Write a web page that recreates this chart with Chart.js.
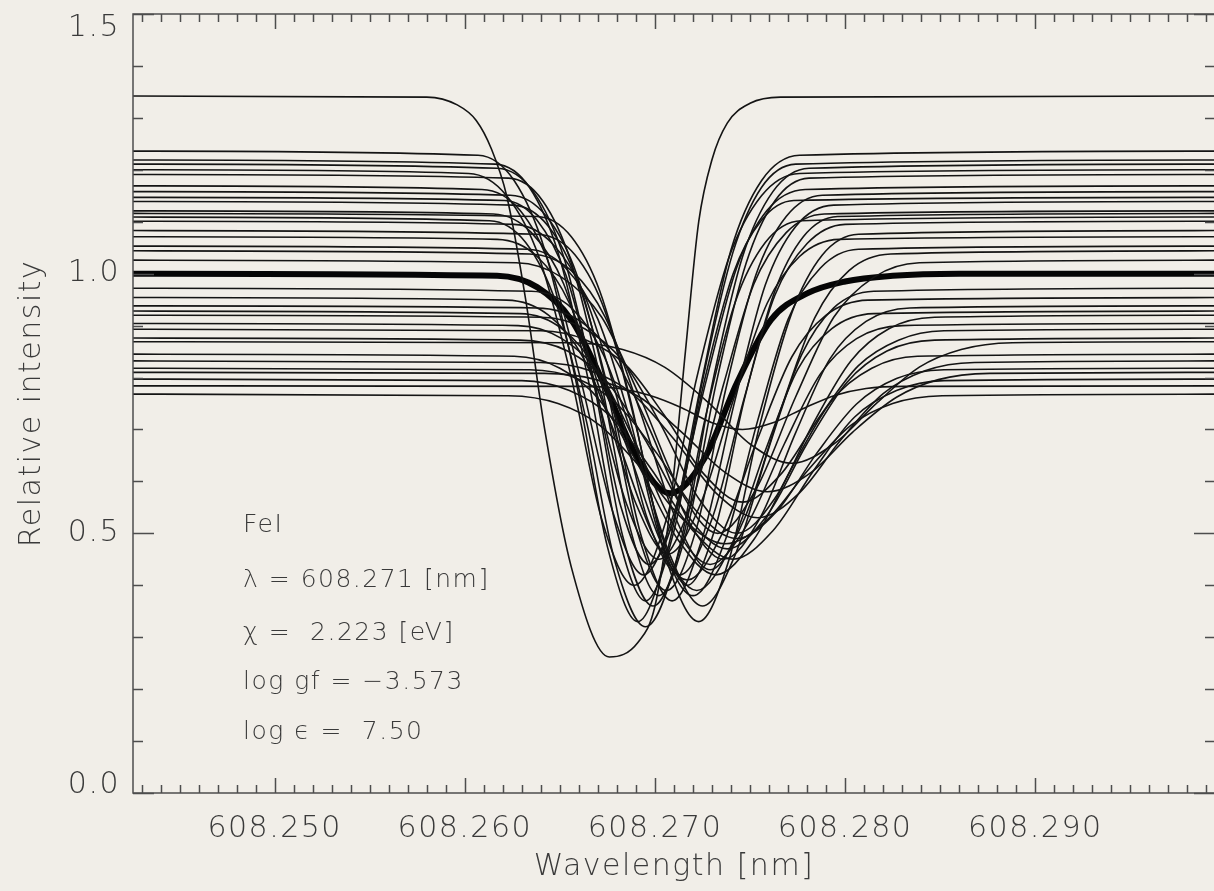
<!DOCTYPE html>
<html>
<head>
<meta charset="utf-8">
<script src="https://cdn.jsdelivr.net/npm/chart.js@4.4.1/dist/chart.umd.min.js"></script>
<style>
  html, body { margin: 0; padding: 0; background: #f1eee8; overflow: hidden; }
  #wrap { position: relative; width: 1216px; height: 891px; }
</style>
</head>
<body>
<div id="wrap"><canvas id="chart"></canvas></div>
<script>
// axis ranges and tick labels
const xMin = 608.24255, xMax = 608.29945;
const xTickValues = [608.25, 608.26, 608.27, 608.28, 608.29];
const yTickValues = [0.0, 0.5, 1.0, 1.5];

// individual profiles, [wavelength nm, relative intensity], continuum above 1
const brightProfiles = [
  [[608.2425,1.342],[608.2580,1.340],[608.2596,1.325],[608.2606,1.295],[608.2614,1.24],[608.2622,1.15],[608.2632,0.95],[608.2642,0.70],[608.2656,0.435],[608.2676,0.262],[608.2691,0.29],[608.2700,0.36],[608.2708,0.55],[608.2716,0.85],[608.2723,1.10],[608.2730,1.22],[608.2738,1.29],[608.2750,1.328],[608.2766,1.340],[608.2995,1.342]],
  [[608.2425,1.236],[608.2607,1.228],[608.2626,1.179],[608.2642,1.046],[608.2659,0.783],[608.2675,0.474],[608.2691,0.33],[608.2707,0.474],[608.2724,0.783],[608.2740,1.046],[608.2756,1.179],[608.2776,1.228],[608.2995,1.236]],
  [[608.2425,1.219],[608.2616,1.211],[608.2634,1.166],[608.2649,1.041],[608.2665,0.794],[608.2680,0.505],[608.2695,0.37],[608.2710,0.505],[608.2725,0.794],[608.2741,1.041],[608.2756,1.166],[608.2774,1.211],[608.2995,1.219]],
  [[608.2425,1.211],[608.2617,1.203],[608.2636,1.158],[608.2652,1.032],[608.2668,0.786],[608.2683,0.495],[608.2699,0.36],[608.2715,0.495],[608.2730,0.786],[608.2746,1.032],[608.2762,1.158],[608.2781,1.203],[608.2995,1.211]],
  [[608.2425,1.2],[608.2602,1.193],[608.2622,1.15],[608.2639,1.032],[608.2656,0.8],[608.2672,0.527],[608.2689,0.4],[608.2706,0.527],[608.2722,0.8],[608.2739,1.032],[608.2756,1.15],[608.2776,1.193],[608.2995,1.2]],
  [[608.2425,1.191],[608.2623,1.184],[608.2641,1.14],[608.2656,1.021],[608.2672,0.786],[608.2687,0.509],[608.2702,0.38],[608.2717,0.509],[608.2732,0.786],[608.2748,1.021],[608.2763,1.14],[608.2781,1.184],[608.2995,1.191]],
  [[608.2425,1.169],[608.2609,1.162],[608.2629,1.122],[608.2645,1.012],[608.2661,0.795],[608.2678,0.539],[608.2694,0.42],[608.2710,0.539],[608.2727,0.795],[608.2743,1.012],[608.2759,1.122],[608.2779,1.162],[608.2995,1.169]],
  [[608.2425,1.158],[608.2624,1.151],[608.2643,1.11],[608.2659,0.997],[608.2675,0.774],[608.2690,0.512],[608.2706,0.39],[608.2722,0.512],[608.2737,0.774],[608.2753,0.997],[608.2769,1.11],[608.2788,1.151],[608.2995,1.158]],
  [[608.2425,1.147],[608.2621,1.141],[608.2638,1.103],[608.2653,0.999],[608.2668,0.794],[608.2682,0.552],[608.2697,0.44],[608.2712,0.552],[608.2726,0.794],[608.2741,0.999],[608.2756,1.103],[608.2773,1.141],[608.2995,1.147]],
  [[608.2425,1.139],[608.2625,1.132],[608.2644,1.091],[608.2660,0.978],[608.2677,0.755],[608.2693,0.492],[608.2709,0.37],[608.2725,0.492],[608.2742,0.755],[608.2758,0.978],[608.2774,1.091],[608.2794,1.132],[608.2995,1.139]],
  [[608.2425,1.121],[608.2615,1.115],[608.2635,1.079],[608.2652,0.98],[608.2668,0.786],[608.2685,0.557],[608.2702,0.45],[608.2719,0.557],[608.2736,0.786],[608.2752,0.98],[608.2769,1.079],[608.2789,1.115],[608.2995,1.121]],
  [[608.2425,1.116],[608.2638,1.11],[608.2656,1.071],[608.2671,0.966],[608.2687,0.758],[608.2702,0.514],[608.2717,0.4],[608.2732,0.514],[608.2747,0.758],[608.2763,0.966],[608.2778,1.071],[608.2796,1.11],[608.2995,1.116]],
  [[608.2425,1.109],[608.2613,1.102],[608.2632,1.06],[608.2648,0.943],[608.2664,0.715],[608.2679,0.445],[608.2695,0.32],[608.2711,0.445],[608.2726,0.715],[608.2742,0.943],[608.2758,1.06],[608.2777,1.102],[608.2995,1.109]],
  [[608.2425,1.101],[608.2626,1.095],[608.2646,1.058],[608.2663,0.958],[608.2680,0.761],[608.2696,0.528],[608.2713,0.42],[608.2730,0.528],[608.2747,0.761],[608.2763,0.958],[608.2780,1.058],[608.2800,1.095],[608.2995,1.101]],
  [[608.2425,1.083],[608.2638,1.076],[608.2658,1.036],[608.2674,0.925],[608.2690,0.707],[608.2706,0.45],[608.2723,0.33],[608.2739,0.45],[608.2755,0.707],[608.2772,0.925],[608.2788,1.036],[608.2807,1.076],[608.2995,1.083]],
  [[608.2425,1.071],[608.2617,1.066],[608.2638,1.033],[608.2655,0.943],[608.2672,0.766],[608.2690,0.557],[608.2707,0.46],[608.2724,0.557],[608.2742,0.766],[608.2759,0.943],[608.2776,1.033],[608.2797,1.066],[608.2995,1.071]],
  [[608.2425,1.053],[608.2633,1.047],[608.2653,1.011],[608.2670,0.912],[608.2687,0.717],[608.2703,0.487],[608.2720,0.38],[608.2737,0.487],[608.2754,0.717],[608.2770,0.912],[608.2787,1.011],[608.2807,1.047],[608.2995,1.053]],
  [[608.2425,1.044],[608.2634,1.038],[608.2656,1.006],[608.2674,0.915],[608.2692,0.737],[608.2711,0.528],[608.2729,0.43],[608.2747,0.528],[608.2766,0.737],[608.2784,0.915],[608.2802,1.006],[608.2824,1.038],[608.2995,1.044]],
  [[608.2425,1.026],[608.2627,1.021],[608.2651,0.993],[608.2672,0.916],[608.2692,0.763],[608.2713,0.584],[608.2733,0.5],[608.2753,0.584],[608.2774,0.763],[608.2794,0.916],[608.2815,0.993],[608.2839,1.021],[608.2995,1.026]]
];

// individual profiles with continuum below 1
const darkProfiles = [
  [[608.2425,0.972],[608.2635,0.966],[608.2656,0.934],[608.2673,0.843],[608.2690,0.666],[608.2708,0.457],[608.2725,0.36],[608.2742,0.457],[608.2760,0.666],[608.2777,0.843],[608.2794,0.934],[608.2815,0.966],[608.2995,0.972]],
  [[608.2425,0.954],[608.2622,0.949],[608.2644,0.92],[608.2662,0.84],[608.2680,0.682],[608.2699,0.497],[608.2717,0.41],[608.2735,0.497],[608.2754,0.682],[608.2772,0.84],[608.2790,0.92],[608.2812,0.949],[608.2995,0.954]],
  [[608.2425,0.938],[608.2638,0.934],[608.2661,0.908],[608.2679,0.836],[608.2698,0.694],[608.2717,0.528],[608.2736,0.45],[608.2755,0.528],[608.2774,0.694],[608.2792,0.836],[608.2811,0.908],[608.2834,0.934],[608.2995,0.938]],
  [[608.2425,0.928],[608.2629,0.923],[608.2651,0.894],[608.2669,0.815],[608.2686,0.659],[608.2704,0.476],[608.2722,0.39],[608.2740,0.476],[608.2758,0.659],[608.2775,0.815],[608.2793,0.894],[608.2815,0.923],[608.2995,0.928]],
  [[608.2425,0.92],[608.2640,0.916],[608.2663,0.894],[608.2683,0.832],[608.2703,0.71],[608.2723,0.567],[608.2743,0.5],[608.2763,0.567],[608.2783,0.71],[608.2803,0.832],[608.2823,0.894],[608.2847,0.916],[608.2995,0.92]],
  [[608.2425,0.904],[608.2628,0.9],[608.2651,0.875],[608.2671,0.807],[608.2690,0.672],[608.2710,0.514],[608.2729,0.44],[608.2748,0.514],[608.2768,0.672],[608.2787,0.807],[608.2806,0.875],[608.2830,0.9],[608.2995,0.904]],
  [[608.2425,0.893],[608.2640,0.89],[608.2664,0.872],[608.2685,0.823],[608.2705,0.727],[608.2726,0.613],[608.2746,0.56],[608.2766,0.613],[608.2787,0.727],[608.2807,0.823],[608.2828,0.872],[608.2852,0.89],[608.2995,0.893]],
  [[608.2425,0.876],[608.2629,0.872],[608.2654,0.851],[608.2675,0.791],[608.2696,0.673],[608.2717,0.535],[608.2738,0.47],[608.2759,0.535],[608.2780,0.673],[608.2801,0.791],[608.2822,0.851],[608.2847,0.872],[608.2995,0.876]],
  [[608.2425,0.869],[608.2656,0.867],[608.2683,0.854],[608.2705,0.82],[608.2728,0.752],[608.2750,0.672],[608.2772,0.635],[608.2794,0.672],[608.2817,0.752],[608.2839,0.82],[608.2861,0.854],[608.2888,0.867],[608.2995,0.869]],
  [[608.2425,0.845],[608.2626,0.841],[608.2650,0.818],[608.2671,0.756],[608.2691,0.633],[608.2712,0.488],[608.2732,0.42],[608.2752,0.488],[608.2773,0.633],[608.2793,0.756],[608.2814,0.818],[608.2838,0.841],[608.2995,0.845]],
  [[608.2425,0.832],[608.2640,0.829],[608.2666,0.813],[608.2688,0.769],[608.2710,0.681],[608.2732,0.578],[608.2754,0.53],[608.2776,0.578],[608.2798,0.681],[608.2820,0.769],[608.2842,0.813],[608.2868,0.829],[608.2995,0.832]],
  [[608.2425,0.818],[608.2634,0.815],[608.2659,0.798],[608.2680,0.749],[608.2701,0.654],[608.2722,0.542],[608.2743,0.49],[608.2764,0.542],[608.2785,0.654],[608.2806,0.749],[608.2827,0.798],[608.2852,0.815],[608.2995,0.818]],
  [[608.2425,0.81],[608.2642,0.808],[608.2669,0.796],[608.2692,0.762],[608.2714,0.695],[608.2737,0.617],[608.2759,0.58],[608.2782,0.617],[608.2804,0.695],[608.2827,0.762],[608.2849,0.796],[608.2876,0.808],[608.2995,0.81]],
  [[608.2425,0.797],[608.2630,0.794],[608.2655,0.775],[608.2677,0.724],[608.2698,0.624],[608.2720,0.505],[608.2741,0.45],[608.2762,0.505],[608.2784,0.624],[608.2805,0.724],[608.2827,0.775],[608.2852,0.794],[608.2995,0.797]],
  [[608.2425,0.784],[608.2662,0.783],[608.2681,0.779],[608.2697,0.766],[608.2714,0.742],[608.2730,0.713],[608.2746,0.70],[608.2762,0.713],[608.2779,0.742],[608.2795,0.766],[608.2811,0.779],[608.2831,0.783],[608.2995,0.784]],
  [[608.2425,0.768],[608.2623,0.765],[608.2649,0.75],[608.2671,0.708],[608.2693,0.624],[608.2715,0.526],[608.2737,0.48],[608.2759,0.526],[608.2781,0.624],[608.2803,0.708],[608.2825,0.75],[608.2851,0.765],[608.2995,0.768]]
];

// spatially averaged profile (thick line)
const meanProfile = [[608.2425,1],[608.2617,0.996],[608.2638,0.974],[608.2656,0.911],[608.2673,0.789],[608.2691,0.644],[608.2708,0.577],[608.2726,0.644],[608.2743,0.789],[608.2761,0.911],[608.2780,0.962],[608.2800,0.985],[608.2825,0.996],[608.2860,1],[608.2995,1]];

// line parameters printed in the plot
const noteLines = ['FeI', 'λ = 608.271 [nm]', 'χ =  2.223 [eV]', 'log gf = −3.573', 'log ϵ =  7.50'];
const noteLevels = [0.516, 0.410, 0.308, 0.212, 0.116];

const fontName = "'DejaVu Sans', sans-serif";
const textColor = '#3a3a3a';
const tickFont = "200 30px 'DejaVu Sans', sans-serif";

const datasets = [];
brightProfiles.concat(darkProfiles).forEach(p => {
  datasets.push({ data: p, borderColor: '#141414', borderWidth: 1.6, cubicInterpolationMode: 'monotone' });
});
datasets.push({ data: meanProfile, borderColor: '#050505', borderWidth: 6, cubicInterpolationMode: 'monotone' });

const spacing = {
  id: 'spacing',
  beforeDraw(chart) { chart.ctx.letterSpacing = '1.5px'; }
};

// box with inward tick marks on all four sides, and the y labels
const frameTicks = {
  id: 'frameTicks',
  afterDraw(chart) {
    const { ctx, chartArea: a, scales: { x, y } } = chart;
    ctx.save();
    ctx.strokeStyle = '#4d4d4d';
    ctx.lineWidth = 1.5;
    ctx.strokeRect(a.left, a.top, a.right - a.left, a.bottom - a.top);
    ctx.beginPath();
    for (let k = 243; k <= 299; k++) {
      const px = Math.round(x.getPixelForValue(608 + k / 1000)) + 0.5;
      const len = k % 10 === 0 ? 15 : 8;
      ctx.moveTo(px, a.bottom); ctx.lineTo(px, a.bottom - len);
      ctx.moveTo(px, a.top); ctx.lineTo(px, a.top + len);
    }
    for (let k = 0; k <= 15; k++) {
      const py = Math.round(y.getPixelForValue(k / 10)) + 0.5;
      const len = k % 5 === 0 ? 21 : 10;
      ctx.moveTo(a.left, py); ctx.lineTo(a.left + len, py);
      ctx.moveTo(a.right, py); ctx.lineTo(a.right - len, py);
    }
    ctx.stroke();

    // y labels: end labels are pulled inside the frame
    ctx.fillStyle = textColor;
    ctx.font = tickFont;
    ctx.letterSpacing = '1.5px';
    ctx.textAlign = 'right';
    ctx.textBaseline = 'middle';
    yTickValues.forEach(v => {
      let py = y.getPixelForValue(v);
      if (v === y.max) py += 14;
      if (v === y.min) py -= 8;
      ctx.fillText(v.toFixed(1), a.left - 13, py);
    });
    ctx.restore();
  }
};

const notes = {
  id: 'notes',
  afterDraw(chart) {
    const { ctx, chartArea: a, scales: { y } } = chart;
    ctx.save();
    ctx.fillStyle = textColor;
    ctx.font = "200 25px " + fontName;
    ctx.letterSpacing = '1.5px';
    ctx.textBaseline = 'middle';
    noteLines.forEach((t, i) => ctx.fillText(t, a.left + 110, y.getPixelForValue(noteLevels[i])));
    ctx.restore();
  }
};

new Chart(document.getElementById('chart'), {
  type: 'line',
  data: { datasets },
  options: {
    responsive: true,
    maintainAspectRatio: false,
    animation: false,
    layout: { autoPadding: false, padding: { top: 14, right: 1, left: 0, bottom: 0 } },
    plugins: { legend: { display: false }, tooltip: { enabled: false } },
    elements: { point: { radius: 0 } },
    scales: {
      x: {
        type: 'linear', min: xMin, max: xMax,
        grid: { display: false, drawTicks: false },
        border: { display: false },
        afterBuildTicks: s => { s.ticks = xTickValues.map(v => ({ value: v })); },
        afterFit: s => { s.height = 98; },
        ticks: {
          callback: v => v.toFixed(3), autoSkip: false, maxRotation: 0,
          padding: 18, color: textColor, font: { family: fontName, size: 30, weight: 200 }
        },
        title: {
          display: true, text: 'Wavelength [nm]', color: textColor,
          font: { family: fontName, size: 30, weight: 200 }, padding: { top: 0, bottom: 6 }
        }
      },
      y: {
        type: 'linear', min: 0, max: 1.5,
        grid: { display: false, drawTicks: false },
        border: { display: false },
        afterBuildTicks: s => { s.ticks = yTickValues.map(v => ({ value: v })); },
        afterFit: s => { s.width = 133; },
        ticks: { display: false },
        title: {
          display: true, text: 'Relative intensity', color: textColor,
          font: { family: fontName, size: 30, weight: 200 }, padding: { top: 14, bottom: 0 }
        }
      }
    }
  },
  plugins: [spacing, frameTicks, notes]
});
</script>
</body>
</html>
